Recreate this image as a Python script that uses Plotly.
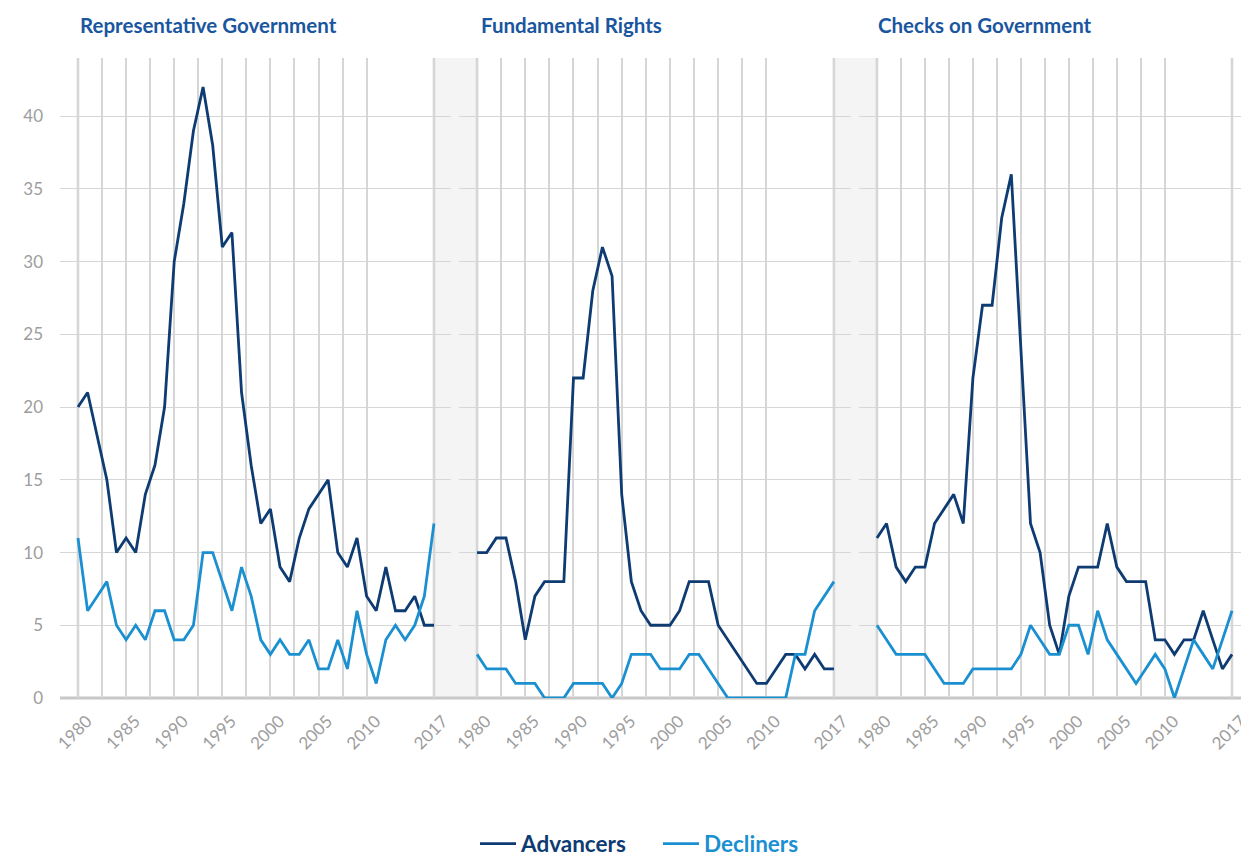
import plotly.graph_objects as go

years = list(range(1980, 2018))
panel_titles = ["Representative Government", "Fundamental Rights", "Checks on Government"]

rep_adv = [20, 21, 18, 15, 10, 11, 10, 14, 16, 20,
           30, 34, 39, 42, 38, 31, 32, 21, 16, 12,
           13, 9, 8, 11, 13, 14, 15, 10, 9, 11,
           7, 6, 9, 6, 6, 7, 5, 5]
rep_dec = [11, 6, 7, 8, 5, 4, 5, 4, 6, 6,
           4, 4, 5, 10, 10, 8, 6, 9, 7, 4,
           3, 4, 3, 3, 4, 2, 2, 4, 2, 6,
           3, 1, 4, 5, 4, 5, 7, 12]
fr_adv = [10, 10, 11, 11, 8, 4, 7, 8, 8, 8,
          22, 22, 28, 31, 29, 14, 8, 6, 5, 5,
          5, 6, 8, 8, 8, 5, 4, 3, 2, 1,
          1, 2, 3, 3, 2, 3, 2, 2]
fr_dec = [3, 2, 2, 2, 1, 1, 1, 0, 0, 0,
          1, 1, 1, 1, 0, 1, 3, 3, 3, 2,
          2, 2, 3, 3, 2, 1, 0, 0, 0, 0,
          0, 0, 0, 3, 3, 6, 7, 8]
ch_adv = [11, 12, 9, 8, 9, 9, 12, 13, 14, 12,
          22, 27, 27, 33, 36, 24, 12, 10, 5, 3,
          7, 9, 9, 9, 12, 9, 8, 8, 8, 4,
          4, 3, 4, 4, 6, 4, 2, 3]
ch_dec = [5, 4, 3, 3, 3, 3, 2, 1, 1, 1,
          2, 2, 2, 2, 2, 3, 5, 4, 3, 3,
          5, 5, 3, 6, 4, 3, 2, 1, 2, 3,
          2, 0, 2, 4, 3, 2, 4, 6]

x_tickvals = [1980, 1982.5, 1985, 1987.5, 1990, 1992.5, 1995, 1997.5, 2000,
              2002.5, 2005, 2007.5, 2010, 2017]
x_ticktext = ["1980", "", "1985", "", "1990", "", "1995", "", "2000",
              "", "2005", "", "2010", "2017"]
y_tickvals = [0, 5, 10, 15, 20, 25, 30, 35, 40]

ADV = "#0d3b72"
DEC = "#1b90d1"
TITLE = "#1a56a0"
GRID = "#d6d6d6"
TICK = "#9d9d9d"
FONT = "Lato"

# the page body has an 8px margin; figure is sized so it fills the window
OFF = 8
W, H = 1249 - OFF, 857 - OFF
ML, MR, MT, MB = 60 - OFF, 0, 58 - OFF, 857 - 698
pw = W - ML - MR
ph = H - MT - MB


def px_x(p):
    """page pixel x -> paper coordinate"""
    return (p - OFF - ML) / pw


def px_y(p):
    """page pixel y -> paper coordinate"""
    return (H - MB - (p - OFF)) / ph


domains = [[px_x(60), px_x(451)], [px_x(459), px_x(851)], [px_x(859), px_x(1249)]]
xrange_ = [1978.13, 2018.77]

series = [(rep_adv, rep_dec), (fr_adv, fr_dec), (ch_adv, ch_dec)]

fig = go.Figure()
for i, (adv, dec) in enumerate(series):
    sfx = "" if i == 0 else str(i + 1)
    fig.add_trace(go.Scatter(
        x=years, y=adv, mode="lines", xaxis="x" + sfx, yaxis="y" + sfx,
        line=dict(color=ADV, width=2.8), legendgroup="adv", showlegend=(i == 0),
        name=f"<b><span style='color:{ADV}'>Advancers</span></b>"))
    fig.add_trace(go.Scatter(
        x=years, y=dec, mode="lines", xaxis="x" + sfx, yaxis="y" + sfx,
        line=dict(color=DEC, width=2.8), legendgroup="dec", showlegend=(i == 0),
        name=f"<b><span style='color:{DEC}'>Decliners</span></b>"))

layout = dict(
    width=W, height=H,
    margin=dict(l=ML, r=MR, t=MT, b=MB, autoexpand=False),
    paper_bgcolor="white", plot_bgcolor="rgba(0,0,0,0)",
    font=dict(family=FONT, color=TICK),
    showlegend=True,
    legend=dict(orientation="h", x=px_x(658), xanchor="center", y=px_y(844), yanchor="middle",
                font=dict(family=FONT, size=22.5), itemwidth=36, tracegroupgap=0,
                entrywidth=132),
)

for i in range(3):
    sfx = "" if i == 0 else str(i + 1)
    layout["xaxis" + sfx] = dict(
        domain=domains[i], range=xrange_, anchor="y" + sfx, automargin=False,
        tickmode="array", tickvals=x_tickvals, ticktext=x_ticktext, tickangle=-45,
        showgrid=True, gridcolor=GRID, gridwidth=1.5, zeroline=False, showline=False,
        ticks="", ticklabelstandoff=9, ticklabelshift=9, ticklabeloverflow="allow",
        tickfont=dict(family=FONT, size=17, color=TICK), fixedrange=True)
    layout["yaxis" + sfx] = dict(
        domain=[0, 1], range=[0, 44], anchor="x" + sfx, automargin=False,
        tickmode="array", tickvals=y_tickvals, showticklabels=(i == 0),
        showgrid=True, gridcolor=GRID, gridwidth=1, zeroline=False, showline=False,
        ticks="", ticklabelstandoff=16,
        tickfont=dict(family=FONT, size=17, color=TICK), fixedrange=True)

fig.update_layout(**layout)

shapes = []
# gray bands between panels
for a, b in [(434, 477), (833, 876)]:
    shapes.append(dict(type="rect", xref="paper", yref="paper", x0=px_x(a), x1=px_x(b),
                       y0=0, y1=1, fillcolor="#f4f4f4", line=dict(width=0), layer="below"))
# thicker boundary lines at 1980 and 2017
for i in range(3):
    sfx = "" if i == 0 else str(i + 1)
    for yr in (1980, 2017):
        shapes.append(dict(type="line", xref="x" + sfx, yref="paper",
                           x0=yr, x1=yr, y0=0, y1=1,
                           line=dict(color="#cfcfcf", width=2.5), layer="below"))
# bottom axis line
shapes.append(dict(type="line", xref="paper", yref="paper", x0=0, x1=1, y0=0, y1=0,
                   line=dict(color="#c8c8c8", width=3), layer="below"))
fig.update_layout(shapes=shapes)

annotations = []
for t, xp in zip(panel_titles, [78, 479, 876]):
    annotations.append(dict(text=f"<b>{t}</b>", xref="paper", yref="paper",
                            x=px_x(xp), y=px_y(25), xanchor="left", yanchor="middle",
                            showarrow=False, font=dict(family=FONT, size=20.5, color=TITLE)))
fig.update_layout(annotations=annotations)

fig.write_html("out.html")
